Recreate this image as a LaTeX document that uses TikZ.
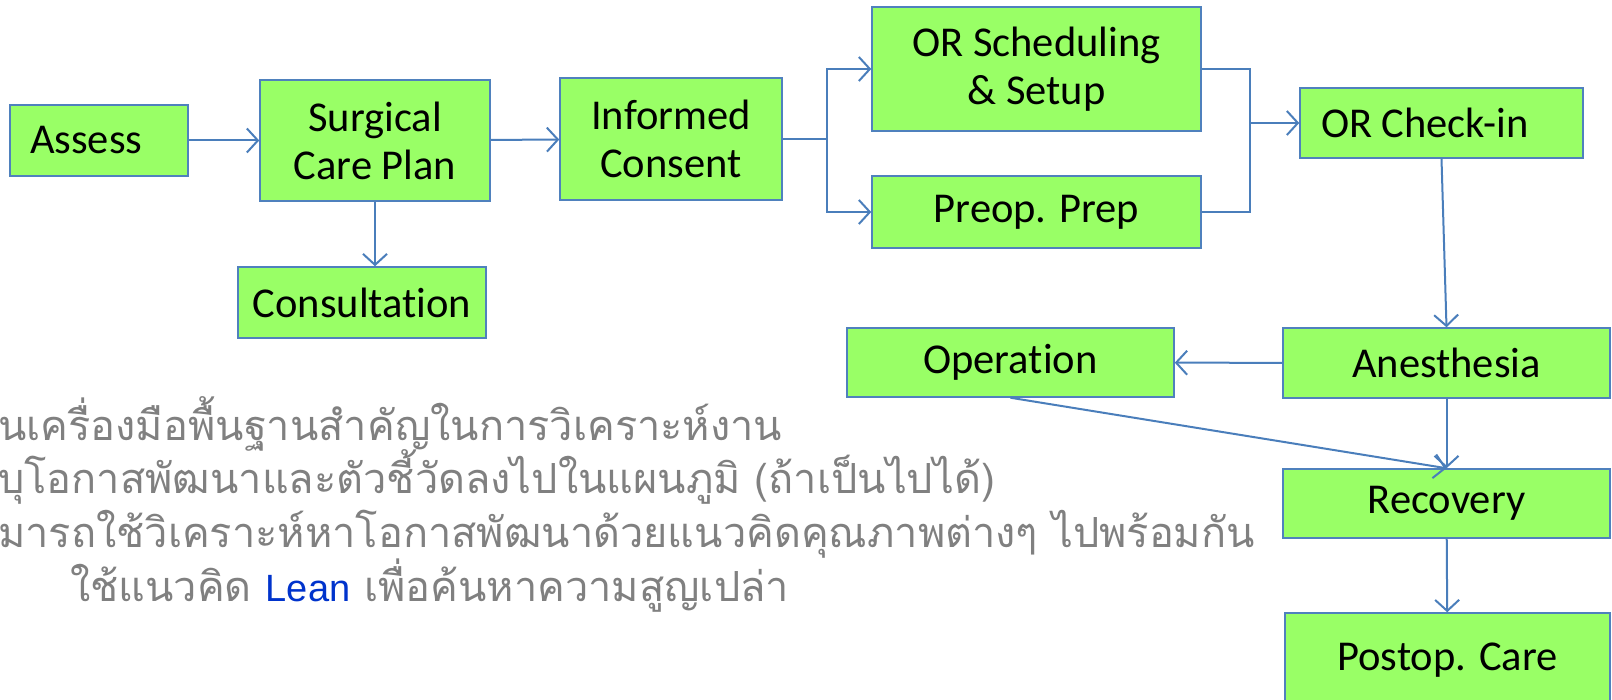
\documentclass[tikz,border=0pt]{standalone}
\usepackage{fontspec}
\setmainfont{Carlito}[Ligatures=NoCommon]
\newfontfamily\thaifont[Script=Thai]{Loma}
\newfontfamily\leanfont{Liberation Sans}
\usetikzlibrary{arrows.meta}

\definecolor{boxgreen}{HTML}{99FF66}
\definecolor{edgeblue}{HTML}{4F81BD}
\definecolor{linkblue}{HTML}{4A7EBB}
\definecolor{thaigray}{HTML}{808080}
\definecolor{leanblue}{HTML}{0033CC}

\begin{document}
\begin{tikzpicture}[x=1pt,y=-1pt,
	stepbox/.style={draw=edgeblue, fill=boxgreen, line width=1.5pt, align=center, inner sep=0pt, font=\fontsize{42.5}{48}\selectfont},
	leftbox/.style={stepbox, align=flush left},
	flow/.style={draw=linkblue, line width=2pt, -{Straight Barb[length=11pt,width=24pt,line width=2pt]}},
	thailine/.style={anchor=base west, inner sep=0pt, text=thaigray, font=\thaifont\fontsize{41.5}{50}\selectfont}]
	
	% page frame
	\useasboundingbox (0,0) rectangle (1612,700);
	\clip (0,0) rectangle (1612,700);
	
	% draw nodes
	\node[leftbox, text width=138pt, minimum width=178pt, minimum height=71pt] (assess) at (99,140.5) {Assess};
	\node[stepbox, minimum width=230pt, minimum height=121pt] (plan) at (375,140.5) {Surgical\\Care Plan};
	\node[stepbox, minimum width=248pt, minimum height=71pt] (consult) at (362,302.5) {Consultation};
	\node[stepbox, minimum width=222pt, minimum height=122pt] (consent) at (671,139) {Informed\\Consent};
	\node[stepbox, minimum width=329pt, minimum height=124pt] (sched) at (1036.5,69) {OR Scheduling\\\& Setup};
	\node[stepbox, minimum width=329pt, minimum height=72pt] (prep) at (1036.5,212) {Preop. Prep};
	\node[leftbox, text width=241pt, minimum width=283pt, minimum height=70pt] (checkin) at (1441.5,123) {OR Check-in};
	\node[stepbox, minimum width=327pt, minimum height=69pt] (oper) at (1010.5,362.5) {Operation};
	\node[stepbox, minimum width=327pt, minimum height=70pt] (anes) at (1446.5,363) {Anesthesia};
	\node[stepbox, minimum width=327pt, minimum height=69pt] (recov) at (1446.5,503.5) {Recovery};
	\node[stepbox, minimum width=325pt, minimum height=94pt] (postop) at (1447.5,660) {Postop. Care};
	
	% split and join points
	\coordinate (split) at (827,139);
	\coordinate (join) at (1250,123);
	
	% draw connectors
	\draw[flow] (assess) -- (plan);
	\draw[flow] (plan.south) -- (plan.south |- consult.north);
	\draw[flow] (plan) -- (consent);
	\draw[draw=linkblue, line width=2pt] (consent.east) -- (split);
	\draw[flow] (split) |- (sched.west);
	\draw[flow] (split) |- (prep.west);
	\draw[draw=linkblue, line width=2pt] (sched.east) -| (join) |- (prep.east);
	\draw[flow] (join) -- (checkin.west);
	\draw[flow] (checkin.south) -- (anes.north);
	\draw[flow] (anes) -- (oper);
	\draw[flow] (anes) -- (recov);
	\draw[flow] (oper.south) -- (recov.north);
	\draw[flow] (recov) -- (postop);
	
	% thai notes
	\node[thailine] (note1) at (-2,440) {นเครื่องมือพื้นฐานสำคัญในการวิเคราะห์งาน};
	\node[thailine] (note2) at (-2,493) {บุโอกาสพัฒนาและตัวชี้วัดลงไปในแผนภูมิ (ถ้าเป็นไปได้)};
	\node[thailine] (note3) at (-2,547) {มารถใช้วิเคราะห์หาโอกาสพัฒนาด้วยแนวคิดคุณภาพต่างๆ ไปพร้อมกัน};
	\node[thailine] (note4) at (70,601) {ใช้แนวคิด {\leanfont\fontsize{38}{46}\selectfont\color{leanblue}Lean} เพื่อค้นหาความสูญเปล่า};
	
\end{tikzpicture}
\end{document}
